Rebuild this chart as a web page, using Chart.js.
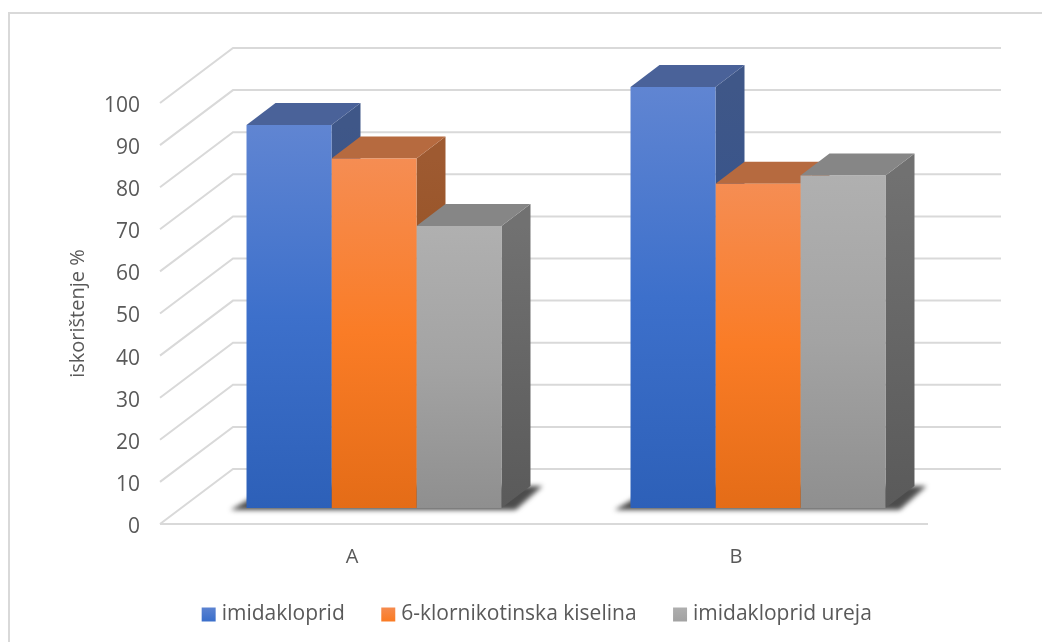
<!DOCTYPE html>
<html>
<head>
<meta charset="utf-8">
<style>
    html, body { margin: 0; padding: 0; background: #fff; }
    canvas { display: block; }
</style>
<script src="https://cdn.jsdelivr.net/npm/chart.js@4"></script>
</head>
<body>
<canvas id="chart" width="1042" height="642"></canvas>
<script>
// --- Data ---
const categories = ['A', 'B'];
const seriesNames = ['imidakloprid', '6-klornikotinska kiselina', 'imidakloprid ureja'];
const imidakloprid = [91, 100];
const klornikotinska = [83, 77];
const urea = [67, 79];

// --- Colours: front gradient, top face, side gradient ---
const frontColors = [
    ['#6085d2', '#3d70cb', '#2d60b8'],
    ['#f58d53', '#fa7c26', '#e46c17'],
    ['#b0b0b0', '#a3a3a3', '#8f8f8f']
];
const topColors = ['#4a6299', '#b66a3f', '#868686'];
const sideColors = [
    ['#3f5788', '#2b4f92'],
    ['#9e5a31', '#8a4710'],
    ['#717171', '#5a5a5a']
];
const gridColor = '#d9d9d9';
const textColor = '#595959';
const fontFamily = "'Open Sans', 'Noto Sans', sans-serif";

// 3D offsets in pixels
const wallDx = 73, wallDy = -55;    // front plane -> back wall
const barDx = 22, barDy = -16;      // front plane -> bar front face
const depthDx = 29, depthDy = -22;  // bar front face -> bar back face

function faceGradient(ctx, y0, y1, stops) {
    const g = ctx.createLinearGradient(0, y0, 0, y1);
    stops.forEach((c, i) => g.addColorStop(i / (stops.length - 1), c));
    return g;
}

function frontFill(context) {
    const chart = context.chart;
    if (context.type !== 'data' || !chart.chartArea) return frontColors[context.datasetIndex][1];
    const y = chart.scales.y;
    return faceGradient(chart.ctx, y.getPixelForValue(context.raw), y.getPixelForValue(0), frontColors[context.datasetIndex]);
}

function poly(ctx, pts, fill) {
    ctx.beginPath();
    pts.forEach((p, i) => i ? ctx.lineTo(p[0], p[1]) : ctx.moveTo(p[0], p[1]));
    ctx.closePath();
    ctx.fillStyle = fill;
    ctx.fill();
}

// Frame, walls, floor shadow and the side/top faces of the bars
const wallsPlugin = {
    id: 'walls',
    afterLayout(chart) {
        chart.legend.left += 75;
        chart.legend.right += 75;
    },
    beforeDatasetsDraw(chart) {
        const ctx = chart.ctx;
        const area = chart.chartArea;
        const y = chart.scales.y;
        ctx.save();

        ctx.strokeStyle = '#d9d9d9';
        ctx.lineWidth = 2;
        ctx.beginPath();
        ctx.moveTo(9, 642);
        ctx.lineTo(9, 13);
        ctx.lineTo(1042, 13);
        ctx.stroke();

        ctx.strokeStyle = gridColor;
        ctx.lineWidth = 2;
        y.ticks.forEach(t => {
            const py = y.getPixelForValue(t.value);
            ctx.beginPath();
            ctx.moveTo(area.left, py);
            ctx.lineTo(area.left + wallDx, py + wallDy);
            ctx.lineTo(area.right + wallDx, py + wallDy);
            ctx.stroke();
        });
        const py0 = y.getPixelForValue(0);
        ctx.beginPath();
        ctx.moveTo(area.left, py0);
        ctx.lineTo(area.right, py0);
        ctx.stroke();

        // soft shadow, one per group
        const first = chart.getDatasetMeta(0).data;
        const last = chart.getDatasetMeta(2).data;
        first.forEach((bar, i) => {
            const l = bar.x - bar.width / 2 + barDx;
            const r = last[i].x + last[i].width / 2 + barDx;
            const b = py0 + barDy;
            ctx.save();
            ctx.filter = 'blur(2.5px)';
            poly(ctx, [[l - 16, b + 2], [r + 14, b + 2], [r + depthDx + 12, b + depthDy], [l + depthDx - 4, b + depthDy]], 'rgba(45,45,45,0.85)');
            ctx.restore();
        });

        // side and top faces in series order, the library then draws the fronts over them
        ctx.translate(barDx, barDy);
        seriesNames.forEach((name, s) => {
            chart.getDatasetMeta(s).data.forEach(bar => {
                const l = bar.x - bar.width / 2;
                const r = bar.x + bar.width / 2;
                const t = bar.y;
                const b = py0;
                poly(ctx, [[r, b], [r + depthDx, b + depthDy], [r + depthDx, t + depthDy], [r, t]], faceGradient(ctx, t, b, sideColors[s]));
                poly(ctx, [[l, t], [r, t], [r + depthDx, t + depthDy], [l + depthDx, t + depthDy]], topColors[s]);
            });
        });
        ctx.restore();
    },
    beforeDatasetDraw(chart) {
        chart.ctx.save();
        chart.ctx.translate(barDx, barDy);
    },
    afterDatasetDraw(chart) {
        chart.ctx.restore();
    }
};

// --- Chart ---
const makeDataset = (values, i) => ({
    label: seriesNames[i],
    data: values,
    backgroundColor: frontFill,
    borderWidth: 0,
    clip: false,
    barPercentage: 1,
    categoryPercentage: 0.664
});

new Chart(document.getElementById('chart'), {
    type: 'bar',
    data: {
        labels: categories,
        datasets: [imidakloprid, klornikotinska, urea].map(makeDataset)
    },
    plugins: [wallsPlugin],
    options: {
        responsive: false,
        animation: false,
        devicePixelRatio: 1,
        layout: { padding: { left: 0, right: 114, top: 103, bottom: 7 } },
        plugins: {
            tooltip: { enabled: false },
            legend: {
                position: 'bottom',
                labels: {
                    usePointStyle: true,
                    pointStyle: 'rect',
                    boxWidth: 5,
                    boxHeight: 14,
                    padding: 41,
                    color: textColor,
                    font: { family: fontFamily, size: 21 },
                    generateLabels(chart) {
                        return seriesNames.map((name, i) => ({
                            text: name,
                            datasetIndex: i,
                            fillStyle: faceGradient(chart.ctx, 606, 620, frontColors[i].slice(0, 2)),
                            strokeStyle: 'transparent',
                            lineWidth: 0,
                            pointStyle: 'rect',
                            fontColor: textColor
                        }));
                    }
                }
            }
        },
        scales: {
            x: {
                grid: { display: false },
                border: { display: false },
                ticks: { color: textColor, font: { family: fontFamily, size: 20 }, padding: 13 },
                afterFit(scale) { scale.height = 39; }
            },
            y: {
                min: 0,
                max: 100,
                grid: { display: false, drawTicks: false },
                border: { display: false },
                ticks: { stepSize: 10, color: textColor, font: { family: fontFamily, size: 21 }, padding: 20, labelOffset: 3 },
                title: {
                    display: true,
                    text: 'iskorištenje %',
                    color: textColor,
                    font: { family: fontFamily, size: 20 },
                    padding: { top: 66, bottom: 0 }
                },
                afterFit(scale) { scale.width = 160; }
            }
        }
    }
});
</script>
</body>
</html>
